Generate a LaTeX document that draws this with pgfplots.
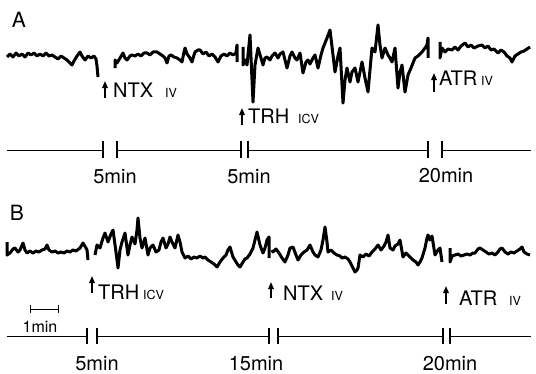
\documentclass[border=0pt]{standalone}
\usepackage{pgfplots}
\pgfplotsset{compat=1.18}
\usepackage{fontspec}
\setmainfont{TeX Gyre Heros}
\usetikzlibrary{arrows.meta}
\newcommand{\lbl}{\fontsize{20bp}{20bp}\selectfont}
\newcommand{\sml}{\fontsize{12.5bp}{12.5bp}\selectfont}
\tikzset{arr/.style={-{Triangle[length=7bp,width=5.5bp]}, line width=1.6bp, black}}
\begin{document}
\begin{tikzpicture}
\begin{axis}[
  scale only axis, width=536bp, height=374bp,
  xmin=0, xmax=536, ymin=0, ymax=374, y dir=reverse,
  hide axis, clip=false,
  trace/.style={draw=black, line width=3bp, line join=round, mark=none},
  bar/.style={draw=black, line width=1bp, mark=none},
  tk/.style={draw=black, line width=1.3bp, mark=none},
]
\addplot[draw=none] coordinates {(0,0) (536,374)};
% ---------- Trace A ----------
\addplot[trace] coordinates {(7,57)(10,54)(13,57)(16,53)(19,56)(22,54)(25,57)(28,53)(31,55)(34,53)(37,56)(40,54)(43,56)(46,53)(49,56)(52,55)(55,57)(58,59)(61,56)(64,58)(67,60)(70,63)(72,65)(74,61)(77,56)(80,52)(82,56)(85,60)(88,56)(91,58)(94,56)(96,59)(97,66)(98,77)};
\addplot[trace] coordinates {(115,68)(115,60)(117,63)(120,58)(123,53)(125,58)(127,60)(130,56)(132,55)(135,56)(138,54)(141,56)(144,53)(147,53)(150,55)(153,52)(157,52)(160,54)(163,56)(165,58)(167,63)(169,56)(171,55)(174,57)(177,58)(180,60)(182,62)(184,52)(185,48)(187,54)(190,58)(192,62)(194,55)(195,52)(198,50)(200,50)(203,54)(206,52)(209,56)(212,54)(215,57)(218,62)(221,56)(224,54)(227,56)(230,53)(233,55)(236,53)(237,45)(237,62)};
\addplot[trace] coordinates {(243,47)(243,65)(245,60)(247,65)(250,35)(253,102)(255,65)(258,48)(261,58)(263,65)(265,58)(267,57)(270,60)(272,56)(275,53)(278,58)(280,54)(283,52)(287,68)(290,56)(292,52)(295,58)(297,60)(300,53)(303,73)(306,62)(308,60)(310,64)(313,58)(315,55)(318,68)(321,55)(323,48)(327,38)(330,30)(333,55)(335,72)(338,56)(340,48)(343,103)(345,80)(347,68)(350,82)(352,72)(355,68)(358,82)(362,62)(365,78)(368,92)(372,48)(375,52)(378,25)(380,45)(382,58)(385,48)(388,55)(390,58)(392,62)(395,48)(398,88)(400,72)(402,65)(405,92)(408,75)(411,68)(415,58)(418,56)(422,52)(425,48)(427,45)(428,38)(428,58)};
\addplot[trace] coordinates {(440,42)(440,58)(442,48)(445,52)(448,49)(452,50)(455,47)(458,50)(461,46)(465,43)(468,47)(471,45)(474,48)(478,46)(482,45)(485,48)(488,46)(491,50)(494,49)(498,53)(501,50)(504,52)(507,56)(510,58)(512,62)(515,56)(518,54)(521,52)(524,51)(527,49)(530,47)};
% ---------- Trace B ----------
\addplot[trace] coordinates {(7,242)(7,255)(10,253)(13,249)(15,248)(18,252)(20,250)(23,243)(25,250)(27,253)(30,251)(33,253)(36,251)(39,252)(42,250)(45,249)(47,245)(49,250)(52,252)(55,251)(58,253)(61,252)(64,253)(67,251)(70,252)(73,250)(76,251)(80,248)(83,243)(86,248)(87,250)(88,260)};
\addplot[trace] coordinates {(95,255)(97,245)(100,248)(103,238)(105,233)(108,242)(111,234)(113,230)(116,252)(118,268)(120,250)(122,242)(125,233)(128,255)(130,245)(132,237)(135,244)(137,230)(138,218)(140,238)(142,248)(145,238)(148,255)(150,248)(153,245)(156,252)(159,250)(161,242)(163,238)(166,248)(168,244)(170,237)(172,242)(175,248)(178,235)(180,242)(182,252)(185,258)(188,256)(191,259)(194,257)(197,258)(200,256)(203,258)(205,257)(208,260)(211,262)(214,264)(217,267)(220,262)(223,258)(226,255)(228,250)(230,247)(233,257)(236,262)(238,265)(240,267)(243,262)(245,259)(247,258)(250,254)(253,248)(255,240)(257,232)(260,245)(263,253)(265,248)(267,240)(269,237)(269,258)};
\addplot[trace] coordinates {(272,250)(273,252)(276,249)(279,253)(282,258)(285,262)(288,255)(290,248)(293,247)(296,255)(298,260)(301,255)(304,252)(307,250)(310,245)(313,252)(315,255)(318,257)(321,250)(323,240)(325,227)(327,242)(328,252)(331,250)(334,253)(337,255)(340,256)(342,258)(345,257)(348,259)(350,262)(353,268)(355,272)(357,270)(358,268)(360,255)(363,257)(366,254)(369,256)(372,252)(375,249)(378,245)(381,250)(384,246)(386,242)(388,235)(390,248)(393,250)(395,246)(398,244)(400,240)(403,257)(406,253)(409,256)(413,260)(416,262)(418,265)(420,262)(422,258)(425,248)(427,238)(428,235)(430,240)(432,236)(435,255)(438,250)(440,248)(442,262)};
\addplot[trace] coordinates {(450,248)(450,262)(452,256)(455,255)(458,254)(461,256)(464,255)(467,254)(470,255)(473,253)(475,253)(478,249)(480,248)(483,250)(486,252)(489,254)(492,253)(495,255)(498,252)(500,249)(502,248)(505,252)(508,254)(511,252)(514,253)(517,251)(520,249)(522,247)(524,252)(527,254)(530,255)};
% ---------- Time bar A ----------
\addplot[bar] coordinates {(7,150)(103,150)};
\addplot[bar] coordinates {(117,150)(241,150)};
\addplot[bar] coordinates {(248,150)(428,150)};
\addplot[bar] coordinates {(442,150)(531,150)};
\addplot[tk] coordinates {(103,141)(103,158)};
\addplot[tk] coordinates {(117,141)(117,158)};
\addplot[tk] coordinates {(241,141)(241,158)};
\addplot[tk] coordinates {(248,141)(248,158)};
\addplot[tk] coordinates {(428,141)(428,158)};
\addplot[tk] coordinates {(442,141)(442,158)};
% ---------- Time bar B ----------
\addplot[bar] coordinates {(7,336)(87,336)};
\addplot[bar] coordinates {(97,336)(269,336)};
\addplot[bar] coordinates {(278,336)(443,336)};
\addplot[bar] coordinates {(450,336)(531,336)};
\addplot[tk] coordinates {(87,328)(87,344)};
\addplot[tk] coordinates {(97,328)(97,344)};
\addplot[tk] coordinates {(269,328)(269,344)};
\addplot[tk] coordinates {(278,328)(278,344)};
\addplot[tk] coordinates {(443,328)(443,344)};
\addplot[tk] coordinates {(450,328)(450,344)};
% 1 min scale
\addplot[bar] coordinates {(30,309)(58,309)};
\addplot[bar] coordinates {(30,305)(30,313)};
\addplot[bar] coordinates {(58,305)(58,313)};
% ---------- Arrows ----------
\draw[arr] (axis cs:105,98) -- (axis cs:105,81);
\draw[arr] (axis cs:242,125) -- (axis cs:242,108);
\draw[arr] (axis cs:434,92) -- (axis cs:434,73);
\draw[arr] (axis cs:92,293) -- (axis cs:92,276);
\draw[arr] (axis cs:271,298) -- (axis cs:271,282);
\draw[arr] (axis cs:446,304) -- (axis cs:446,286);
% ---------- Labels ----------
\node[font=\fontsize{21bp}{21bp}\selectfont] at (axis cs:19,20) {A};
\node[font=\fontsize{21bp}{21bp}\selectfont] at (axis cs:17,213) {B};
\node[anchor=base west, font=\lbl, inner sep=0pt] at (axis cs:113,97) {NTX};
\node[anchor=base west, font=\sml, inner sep=0pt] at (axis cs:165,97) {IV};
\node[anchor=base west, font=\lbl, inner sep=0pt] at (axis cs:248,123) {TRH};
\node[anchor=base west, font=\sml, inner sep=0pt] at (axis cs:298,123) {ICV};
\node[anchor=base west, font=\lbl, inner sep=0pt] at (axis cs:439,85) {ATR};
\node[anchor=base west, font=\sml, inner sep=0pt] at (axis cs:481,85) {IV};
\node[anchor=base west, font=\lbl, inner sep=0pt] at (axis cs:98,299) {TRH};
\node[anchor=base west, font=\sml, inner sep=0pt] at (axis cs:143,299) {ICV};
\node[anchor=base west, font=\lbl, inner sep=0pt] at (axis cs:283,300) {NTX};
\node[anchor=base west, font=\sml, inner sep=0pt] at (axis cs:331,300) {IV};
\node[anchor=base west, font=\lbl, inner sep=0pt] at (axis cs:459,305) {ATR};
\node[anchor=base west, font=\sml, inner sep=0pt] at (axis cs:509,305) {IV};
\node[anchor=base, font=\lbl, inner sep=0pt] at (axis cs:115,183) {5min};
\node[anchor=base, font=\lbl, inner sep=0pt] at (axis cs:249,183) {5min};
\node[anchor=base, font=\lbl, inner sep=0pt] at (axis cs:446,182) {20min};
\node[anchor=base, font=\fontsize{16bp}{16bp}\selectfont, inner sep=0pt] at (axis cs:40,332) {1min};
\node[anchor=base, font=\lbl, inner sep=0pt] at (axis cs:97,370) {5min};
\node[anchor=base, font=\lbl, inner sep=0pt] at (axis cs:256,370) {15min};
\node[anchor=base, font=\lbl, inner sep=0pt] at (axis cs:450,370) {20min};
\end{axis}
\end{tikzpicture}
\end{document}
